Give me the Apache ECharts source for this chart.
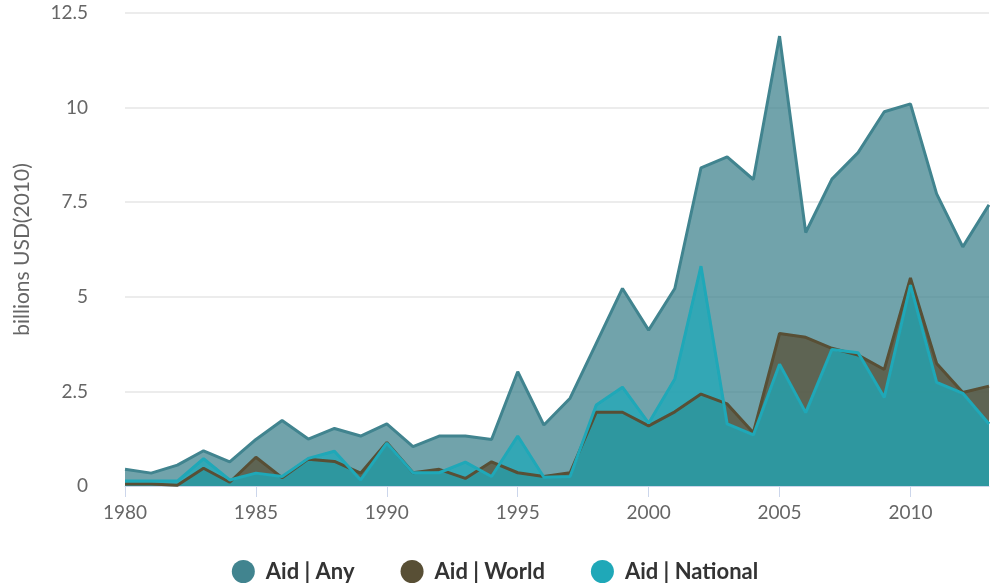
<!DOCTYPE html>
<html>
<head>
<meta charset="utf-8">
<script src="https://cdn.jsdelivr.net/npm/echarts@6/dist/echarts.min.js"></script>
<style>
    html, body { margin: 0; padding: 0; background: #fff; }
    #chart { width: 990px; height: 588px; }
</style>
</head>
<body>
<div id="chart"></div>
<script>
// years on the x axis
const years = [];
for (let y = 1980; y <= 2013; y++) years.push(String(y));

// billions USD (2010)
const aidAny = [0.44, 0.34, 0.55, 0.93, 0.64, 1.23, 1.73, 1.24, 1.52, 1.32,
    1.64, 1.04, 1.32, 1.32, 1.23, 3.02, 1.61, 2.32, 3.77, 5.22,
    4.12, 5.22, 8.41, 8.70, 8.10, 11.89, 6.70, 8.11, 8.81, 9.89,
    10.10, 7.72, 6.32, 7.43];
const aidWorld = [0.05, 0.05, 0.02, 0.47, 0.1, 0.76, 0.22, 0.71, 0.65, 0.34,
    1.15, 0.35, 0.44, 0.2, 0.64, 0.35, 0.25, 0.35, 1.95, 1.95,
    1.59, 1.96, 2.43, 2.17, 1.41, 4.03, 3.93, 3.64, 3.46, 3.08,
    5.5, 3.24, 2.47, 2.64];
const aidNational = [0.13, 0.13, 0.13, 0.72, 0.16, 0.34, 0.25, 0.73, 0.92, 0.16,
    1.13, 0.35, 0.35, 0.63, 0.25, 1.32, 0.23, 0.25, 2.14, 2.61,
    1.66, 2.83, 5.81, 1.64, 1.35, 3.22, 1.94, 3.61, 3.52, 2.34,
    5.31, 2.74, 2.45, 1.64];

const yTicks = { min: 0, max: 12.5, step: 2.5 };

const font = 'Lato, "Open Sans", sans-serif';

function areaSeries(name, data, color) {
    return {
        name: name,
        type: 'line',
        data: data,
        symbol: 'none',
        smooth: false,
        lineStyle: { color: color, width: 3 },
        itemStyle: { color: color },
        areaStyle: { color: color, opacity: 0.75 },
    };
}

const myChart = echarts.init(document.getElementById('chart'));

const option = {
    animation: false,
    textStyle: { fontFamily: font },
    grid: {
        left: 125,
        right: 1,
        top: 13,
        bottom: 102,
        outerBoundsMode: 'none',
    },
    legend: {
        bottom: 0,
        left: 'center',
        icon: 'circle',
        itemWidth: 23,
        itemHeight: 23,
        itemGap: 46,
        textStyle: { color: '#333', fontSize: 22, fontWeight: 'bold', fontFamily: font, padding: [0, 0, 0, 6] },
        data: ['Aid | Any', 'Aid | World', 'Aid | National'],
    },
    xAxis: {
        type: 'category',
        data: years,
        boundaryGap: false,
        axisLine: { lineStyle: { color: '#ccd6eb', width: 1 } },
        axisTick: { interval: 4, length: 11, lineStyle: { color: '#ccd6eb' } },
        axisLabel: { interval: 4, color: '#666', fontSize: 19, margin: 17 },
    },
    yAxis: {
        type: 'value',
        min: yTicks.min,
        max: yTicks.max,
        interval: yTicks.step,
        name: 'billions USD(2010)',
        nameLocation: 'middle',
        nameGap: 92,
        nameTextStyle: { color: '#666', fontSize: 21 },
        axisLine: { show: false },
        axisTick: { show: false },
        axisLabel: { color: '#666', fontSize: 19, margin: 37, lineHeight: 26, verticalAlign: 'middle', padding: [5, 0, 0, 0] },
        splitLine: { lineStyle: { color: '#e6e6e6', width: 1.5 } },
    },
    series: [
        areaSeries('Aid | Any', aidAny, '#41848f'),
        areaSeries('Aid | World', aidWorld, '#584f35'),
        areaSeries('Aid | National', aidNational, '#1fa8b8'),
    ],
};

myChart.setOption(option);
</script>
</body>
</html>
